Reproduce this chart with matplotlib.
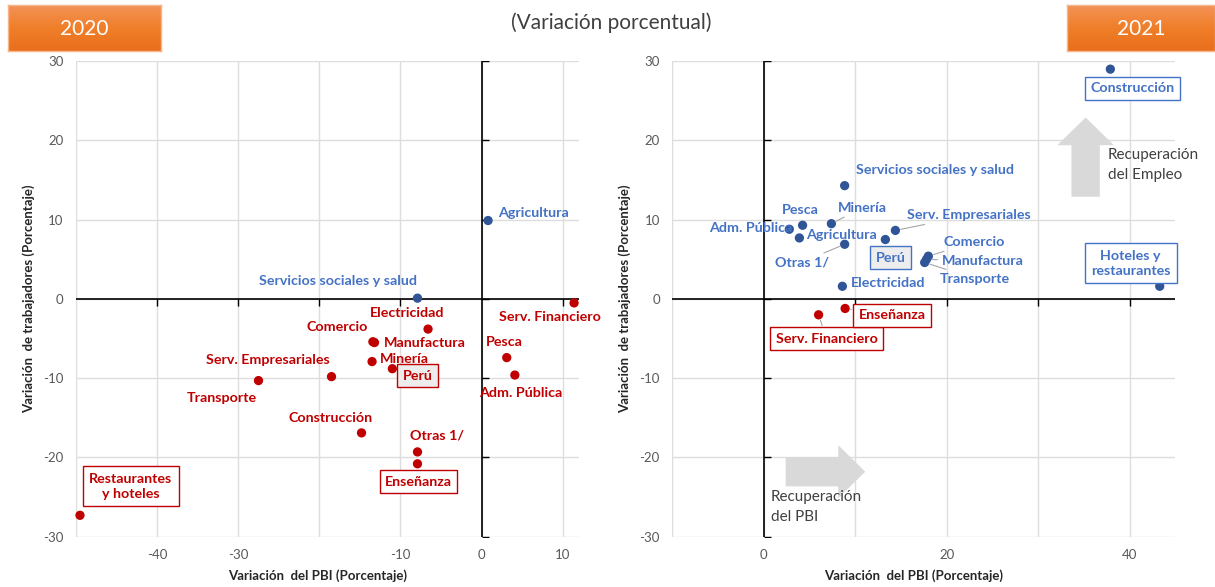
import numpy as np
import matplotlib.pyplot as plt
from matplotlib.patches import FancyArrow
from matplotlib.colors import LinearSegmentedColormap

plt.rcParams['axes.unicode_minus'] = False

# datos 2020
sectores_2020 = ['Agricultura', 'Pesca', 'Minería', 'Manufactura', 'Electricidad', 'Construcción',
                 'Comercio', 'Transporte', 'Restaurantes\ny hoteles', 'Servicios sociales y salud',
                 'Serv. Financiero', 'Serv. Empresariales', 'Adm. Pública', 'Enseñanza', 'Otras 1/', 'Perú']
pbi_2020 = [0.8, 3.1, -13.5, -13.2, -6.6, -14.8, -13.4, -27.5, -49.5, -7.9, 11.4, -18.5, 4.1, -7.9, -7.9, -11.0]
empleo_2020 = [9.9, -7.4, -7.9, -5.5, -3.8, -16.9, -5.4, -10.3, -27.3, 0.1, -0.5, -9.8, -9.6, -20.8, -19.3, -8.8]

# datos 2021
sectores_2021 = ['Agricultura', 'Pesca', 'Minería', 'Manufactura', 'Electricidad', 'Construcción',
                 'Comercio', 'Transporte', 'Hoteles y\nrestaurantes', 'Servicios sociales y salud',
                 'Serv. Financiero', 'Serv. Empresariales', 'Adm. Pública', 'Enseñanza', 'Otras 1/', 'Perú']
pbi_2021 = [3.9, 4.25, 7.4, 17.8, 8.6, 37.9, 18.0, 17.6, 43.3, 8.85, 6.0, 14.4, 2.8, 8.9, 8.85, 13.3]
empleo_2021 = [7.7, 9.3, 9.5, 5.0, 1.6, 29.0, 5.4, 4.6, 1.6, 14.3, -2.0, 8.65, 8.8, -1.2, 6.9, 7.5]

yticks = [30, 20, 10, 0, -10, -20, -30]
xticks_2020 = [-50, -40, -30, -20, -10, 0, 10]
xlabels_2020 = ['', '-40', '-30', '', '-10', '0', '10']
xticks_2021 = [-10, 0, 10, 20, 30, 40]
xlabels_2021 = ['', '0', '', '20', '', '40']

# posicion de etiquetas: (dx px, dy px, ha, caja, linea guia)
et_2020 = {
    'Agricultura': (10, 8, 'left', None, False),
    'Pesca': (-2, 16, 'center', None, False),
    'Minería': (8, 3, 'left', None, False),
    'Manufactura': (9, 0, 'left', None, False),
    'Electricidad': (-21, 16, 'center', None, False),
    'Construcción': (-31, 15, 'center', None, False),
    'Comercio': (-5, 15, 'right', None, False),
    'Transporte': (-2, -17, 'right', None, False),
    'Restaurantes\ny hoteles': (51, 29, 'center', 'white', False),
    'Servicios sociales y salud': (0, 17, 'right', None, False),
    'Serv. Financiero': (-24, -14, 'center', None, False),
    'Serv. Empresariales': (-2, 17, 'right', None, False),
    'Adm. Pública': (6, -18, 'center', None, False),
    'Enseñanza': (1, -18, 'center', 'white', False),
    'Otras 1/': (-7, 16, 'left', None, False),
    'Perú': (25, -7, 'center', '#EDEDED', False),
}
et_2021 = {
    'Agricultura': (7, 3, 'left', None, False),
    'Pesca': (-2, 15, 'center', None, False),
    'Minería': (31, 16, 'center', None, True),
    'Manufactura': (15, -2, 'left', None, True),
    'Electricidad': (9, 3, 'left', None, False),
    'Construcción': (22, -19, 'center', 'white', False),
    'Comercio': (15, 14, 'left', None, True),
    'Transporte': (15, -16, 'left', None, True),
    'Hoteles y\nrestaurantes': (-29, 23, 'center', 'white', False),
    'Servicios sociales y salud': (11, 16, 'left', None, False),
    'Serv. Financiero': (8, -24, 'center', 'white', True),
    'Serv. Empresariales': (12, 15, 'left', None, True),
    'Adm. Pública': (3, 1, 'right', None, False),
    'Enseñanza': (47, -7, 'center', 'white', True),
    'Otras 1/': (-16, -18, 'right', None, True),
    'Perú': (5, -18, 'center', '#EDEDED', False),
}

ROJO = '#C00000'
AZUL_PT = '#2F5597'
AZUL_TX = '#4472C4'
GRID = '#DDDDDD'
FNT = ['Liberation Sans Narrow', 'Lato', 'DejaVu Sans']
FNT2 = ['Lato', 'DejaVu Sans']

fig = plt.figure(figsize=(12.15, 5.87), dpi=100)
ax1 = fig.add_axes([0.0625, 0.0857, 0.414, 0.810])
ax2 = fig.add_axes([0.5533, 0.0857, 0.414, 0.810])


def panel(ax, pbi, emp, sect, etq, xt, xl, xlim):
    ax.set_xlim(*xlim)
    ax.set_ylim(-30, 30)
    ax.set_xticks(xt)
    ax.set_xticklabels(xl)
    ax.set_yticks(yticks)
    for s in ax.spines.values():
        s.set_visible(False)
    ax.tick_params(length=0, pad=9, labelsize=9.5, labelcolor='#595959')
    for lb in ax.get_xticklabels() + ax.get_yticklabels():
        lb.set_family('Lato')
    ax.grid(True, color=GRID, lw=1)
    ax.set_axisbelow(True)
    # ejes en cero
    ax.axhline(0, color='black', lw=1.2, zorder=2)
    ax.axvline(0, color='black', lw=1.2, zorder=2)
    ax.plot(np.zeros(len(yticks)), yticks, ls='none', marker=1, ms=5, mew=1, color='black', zorder=2)
    xt_z = [v for v in xt if v != 0 and v != xlim[0]]
    ax.plot(xt_z, np.zeros(len(xt_z)), ls='none', marker=3, ms=5, mew=1, color='black', zorder=2)

    ax.set_xlabel('Variación  del PBI (Porcentaje)', family=FNT, weight='bold', fontsize=9.5, color='#262626')
    ax.set_ylabel('Variación  de trabajadores (Porcentaje)', family=FNT, weight='bold', fontsize=9.5, color='#262626')
    ax.xaxis.set_label_coords(0.48, -0.068)
    ax.yaxis.set_label_coords(-0.082, 0.5)

    cols_pt = [AZUL_PT if e > 0 else ROJO for e in emp]
    ax.scatter(pbi, emp, s=32, c=cols_pt, zorder=4, clip_on=False)

    for x, y, n in zip(pbi, emp, sect):
        dx, dy, ha, caja, guia = etq[n]
        col = AZUL_TX if y > 0 else ROJO
        kw = dict(xy=(x, y), xytext=(dx, dy), textcoords='offset pixels', ha=ha, va='center',
                  color=col, fontsize=10.3, weight='bold', family=FNT, zorder=5,
                  annotation_clip=False, linespacing=1.35)
        if caja is not None:
            pad = 0.45 if '\n' in n else 0.38
            kw['bbox'] = dict(boxstyle='square,pad=%.2f' % pad, fc=caja, ec=col, lw=1)
        if guia:
            kw['arrowprops'] = dict(arrowstyle='-', color='#A6A6A6', lw=0.8, shrinkA=1, shrinkB=4)
        ax.annotate(n, **kw)


panel(ax1, pbi_2020, empleo_2020, sectores_2020, et_2020, xticks_2020, xlabels_2020, (-50, 12))
panel(ax2, pbi_2021, empleo_2021, sectores_2021, et_2021, xticks_2021, xlabels_2021, (-10, 45))

# flechas de recuperacion
ax2.add_patch(FancyArrow(35.2, 12.9, 0, 10.0, width=3.1, head_width=6.2, head_length=3.5,
                         length_includes_head=True, color='#D9D9D9', lw=0, zorder=1))
ax2.add_patch(FancyArrow(2.4, -21.8, 8.7, 0, width=3.7, head_width=6.7, head_length=2.95,
                         length_includes_head=True, color='#D9D9D9', lw=0, zorder=1))
ax2.text(37.6, 16.9, 'Recuperación\ndel Empleo', fontsize=11, family=FNT2,
         color='#404040', va='center', ha='left', linespacing=1.55)
ax2.text(0.8, -26.3, 'Recuperación\ndel PBI', fontsize=11, family=FNT2,
         color='#404040', va='center', ha='left', linespacing=1.55)

# titulo
fig.text(0.503, 0.962, '(Variación porcentual)', ha='center', va='center', fontsize=15,
         family=FNT2, color='#404040')

# cajas naranjas de año
grad = np.linspace(0, 1, 50).reshape(-1, 1)
cm_nar = LinearSegmentedColormap.from_list('nar', ['#F39359', '#F07F2A', '#E96F1C'])
for x0, w, anio in [(0.0066, 0.1259, '2020'), (0.878, 0.122, '2021')]:
    bx = fig.add_axes([x0, 0.9131, w, 0.0784])
    bx.imshow(grad, aspect='auto', cmap=cm_nar, extent=(0, 1, 0, 1))
    bx.set_xticks([])
    bx.set_yticks([])
    for s in bx.spines.values():
        s.set_color('#F6B68A')
        s.set_linewidth(1)
    bx.text(0.5, 0.48, anio, ha='center', va='center', color='white', fontsize=15,
            family=FNT2, transform=bx.transAxes)

fig.savefig('out.png', dpi=100)
